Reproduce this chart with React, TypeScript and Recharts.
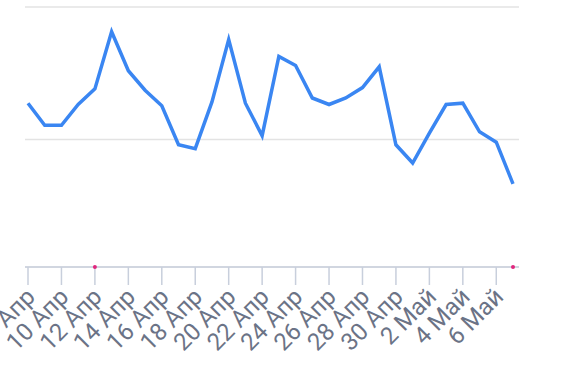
import React from 'react'
import { LineChart, Line, XAxis, YAxis, CartesianGrid, ReferenceDot } from 'recharts'

// дни: 8 апр – 7 май
const days = [
  '8 Апр', '9 Апр', '10 Апр', '11 Апр', '12 Апр', '13 Апр', '14 Апр', '15 Апр',
  '16 Апр', '17 Апр', '18 Апр', '19 Апр', '20 Апр', '21 Апр', '22 Апр', '23 Апр',
  '24 Апр', '25 Апр', '26 Апр', '27 Апр', '28 Апр', '29 Апр', '30 Апр',
  '1 Май', '2 Май', '3 Май', '4 Май', '5 Май', '6 Май', '7 Май',
]

const values = [
  126, 109, 109, 125, 137, 181, 151, 136, 124, 94, 91, 127, 175, 126, 101,
  162, 155, 130, 125, 130, 138, 154, 94, 80, 103, 125, 126, 104, 96, 64,
]

const yTicks = [0, 98, 200]

// отметки на оси
const markers = ['12 Апр', '7 Май']

const data = days.map((day, i) => ({ day, value: values[i] }))

const AngledTick = (props: any) => {
  const { x, y, payload } = props
  return (
    <g transform={`translate(${x},${y})`}>
      <text
        x={-2}
        y={14}
        textAnchor="end"
        fill="#6b7386"
        fontSize={24}
        fontFamily="Roboto, sans-serif"
        transform="rotate(-45)"
      >
        {payload.value}
      </text>
    </g>
  )
}

const App = () => {
  return (
    <div style={{ position: 'absolute', left: 0, top: 0, background: '#fff' }}>
      <LineChart
        width={585}
        height={386}
        data={data}
        margin={{ top: 7, right: 66, left: 25, bottom: 19 }}
      >
        <CartesianGrid vertical={false} stroke="#e3e3e3" strokeWidth={1.5} />
        <XAxis
          dataKey="day"
          interval={1}
          height={100}
          padding={{ left: 3, right: 6 }}
          stroke="#c8cfdc"
          strokeWidth={1.5}
          tickSize={18}
          tick={<AngledTick />}
        />
        <YAxis hide domain={[0, 200]} ticks={yTicks} />
        <Line
          type="linear"
          dataKey="value"
          stroke="#3a86f2"
          strokeWidth={3.5}
          dot={false}
          isAnimationActive={false}
        />
        {markers.map((m) => (
          <ReferenceDot key={m} x={m} y={0} r={2} fill="#e0267d" stroke="none" />
        ))}
      </LineChart>
    </div>
  )
}

export default App
